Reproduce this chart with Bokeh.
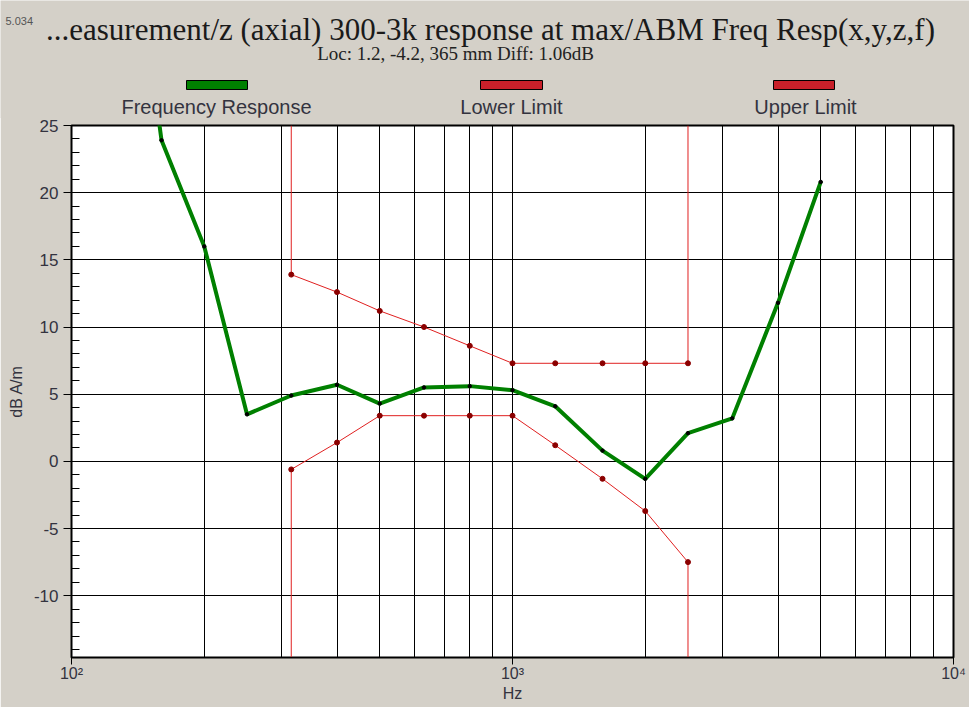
import math
from bokeh.plotting import figure
from bokeh.models import FixedTicker, Range1d
from bokeh.core.properties import value
from bokeh.embed import file_html
from bokeh.resources import INLINE

# ---------------- data ----------------
freq_hz = [125, 160, 200, 250, 315, 400, 500, 630, 800, 1000, 1250, 1600, 2000, 2500, 3150, 4000, 5000]
response_db = [50.0, 23.9, 16.0, 3.5, 4.9, 5.7, 4.3, 5.5, 5.6, 5.3, 4.1, 0.8, -1.3, 2.1, 3.2, 11.8, 20.8]

limit_hz = [315, 400, 500, 630, 800, 1000, 1250, 1600, 2000, 2500]
lower_db = [-0.6, 1.4, 3.4, 3.4, 3.4, 3.4, 1.2, -1.3, -3.7, -7.5]
upper_db = [13.9, 12.6, 11.2, 10.0, 8.6, 7.3, 7.3, 7.3, 7.3, 7.3]

x_ticks = [100, 1000, 10000]
x_tick_labels = ["10\u00b2", "10\u00b3", "10\u2074"]
y_ticks = [-10, -5, 0, 5, 10, 15, 20, 25]
y_tick_labels = ["-10", "-5", "0", "5", "10", "15", "20", "25"]
legend_labels = ["Frequency Response", "Lower Limit", "Upper Limit"]

title_note = "5.034"
title_text = "...easurement/z (axial) 300-3k response at max/ABM Freq Resp(x,y,z,f)"
subtitle_text = "Loc: 1.2, -4.2, 365 mm Diff: 1.06dB"
x_label = "Hz"
y_label = "dB A/m"

X0, X1 = 100, 10000
Y0, Y1 = -14.6, 25.0

# ---------------- layout ----------------
W = 969
H_TOTAL = 707
H_HEAD = 118
OVERLAP = 1
FL, FT, FR, FB = 71, 125, 953, 657

GREEN = "#008000"
RED = "#e02020"
DARKRED = "#8b0000"
BG = "#d4d0c8"
TXT = "#33333f"

# ---------------- header (title, subtitle, legend) ----------------
head = figure(width=W, height=H_HEAD, x_range=Range1d(0, W), y_range=Range1d(H_HEAD, 0),
              output_backend="svg", toolbar_location=None, title=None,
              x_axis_location=None, y_axis_location=None,
              min_border=0, min_border_left=0, min_border_right=0,
              min_border_top=0, min_border_bottom=0,
              background_fill_color=BG, border_fill_color=BG, outline_line_color=None)
head.xgrid.visible = False
head.ygrid.visible = False

head.text(x=[5], y=[20], text=[title_note], text_font=value("Liberation Sans"),
          text_font_size="11px", text_color="#555555", text_align="left",
          text_baseline="middle")
head.text(x=[490], y=[29], text=[title_text], text_font=value("Liberation Serif"),
          text_font_size="31px", text_color="#1a1a1a", text_align="center",
          text_baseline="middle")
head.text(x=[455], y=[53], text=[subtitle_text], text_font=value("Liberation Serif"),
          text_font_size="19px", text_color="#222222", text_align="center",
          text_baseline="middle")

legend_colors = [GREEN, "#c8202a", "#c8202a"]
bar_left = [186, 480, 773]
bar_right = [247, 542, 834]
label_cx = [216, 511, 805]
head.quad(left=bar_left, right=bar_right, top=[80] * 3, bottom=[89] * 3,
          fill_color=legend_colors, line_color="black", line_width=1)
head.text(x=label_cx, y=[106] * 3, text=legend_labels, text_font=value("Liberation Sans"),
          text_font_size="20px", text_color=TXT, text_align="center",
          text_baseline="middle")

# ---------------- main plot ----------------
H_MAIN = H_TOTAL - H_HEAD + OVERLAP
p = figure(width=W, height=H_MAIN, x_axis_type="log",
           x_range=Range1d(X0, X1), y_range=Range1d(Y0, Y1),
           output_backend="svg", toolbar_location=None, title=None,
           min_border_left=FL, min_border_right=W - FR,
           min_border_top=FT - H_HEAD + OVERLAP, min_border_bottom=H_TOTAL - FB,
           background_fill_color="white", border_fill_color=BG,
           outline_line_color="black", outline_line_width=2)
p.margin = (-OVERLAP, 0, 0, 0)

minor_x = [m * 10 ** e for e in (2, 3) for m in range(2, 10)]
xt = FixedTicker(ticks=x_ticks, minor_ticks=minor_x)
yt = FixedTicker(ticks=y_ticks, minor_ticks=[v for v in range(-14, 25) if v % 5 != 0])
p.xaxis.ticker = xt
p.yaxis.ticker = yt
p.xgrid.ticker = xt
p.ygrid.ticker = yt
p.xaxis.major_label_overrides = dict(zip(x_ticks, x_tick_labels))
p.yaxis.major_label_overrides = dict(zip(y_ticks, y_tick_labels))

p.xgrid.grid_line_color = "black"
p.xgrid.grid_line_alpha = 1
p.xgrid.minor_grid_line_color = "black"
p.ygrid.grid_line_color = "black"
p.ygrid.grid_line_alpha = 1
p.ygrid.minor_grid_line_color = None

for ax in (p.xaxis[0], p.yaxis[0]):
    ax.axis_line_color = "black"
    ax.major_tick_line_color = "black"
    ax.minor_tick_line_color = "black"
    ax.major_label_text_font = "Liberation Sans"
    ax.major_label_text_color = TXT
    ax.axis_label_text_font = "Liberation Sans"
    ax.axis_label_text_font_style = "normal"
    ax.axis_label_text_color = TXT

p.yaxis.major_label_text_font_size = "17px"
p.yaxis.axis_label = y_label
p.yaxis.axis_label_text_font_size = "16px"
p.yaxis.axis_label_standoff = 6
p.yaxis.major_tick_out = 8
p.yaxis.major_tick_in = 0
p.yaxis.minor_tick_in = 8
p.yaxis.minor_tick_out = 0
p.yaxis.major_label_standoff = 5

p.xaxis.major_label_text_font_size = "16px"
p.xaxis.axis_label = x_label
p.xaxis.axis_label_text_font_size = "16px"
p.xaxis.axis_label_standoff = 0
p.xaxis.major_tick_out = 7
p.xaxis.major_tick_in = 0
p.xaxis.minor_tick_line_color = None
p.xaxis.major_label_standoff = 0

# ---------------- series ----------------
lower_x = [limit_hz[0]] + limit_hz + [limit_hz[-1]]
lower_y = [Y0] + lower_db + [Y0]
upper_x = [limit_hz[0]] + limit_hz + [limit_hz[-1]]
upper_y = [Y1] + upper_db + [Y1]

p.line(lower_x, lower_y, line_color=RED, line_width=1)
p.scatter(limit_hz, lower_db, size=5, color=DARKRED)
p.line(upper_x, upper_y, line_color=RED, line_width=1)
p.scatter(limit_hz, upper_db, size=5, color=DARKRED)

p.line(freq_hz, response_db, line_color=GREEN, line_width=4)
p.scatter(freq_hz, response_db, size=3.5, color="black")

open("out.html", "w").write(file_html([head, p], INLINE))
